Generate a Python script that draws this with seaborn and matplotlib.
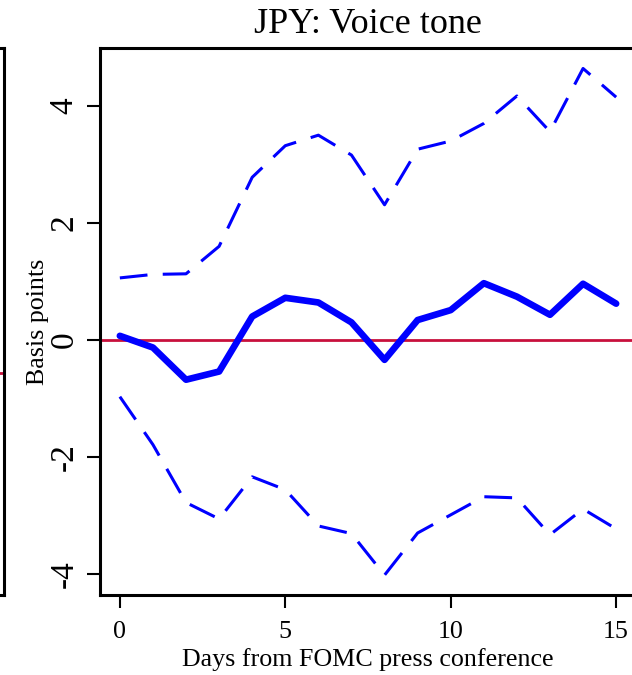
import matplotlib
matplotlib.use("Agg")
import matplotlib.pyplot as plt
import seaborn as sns
import pandas as pd

# ---- data ----
days = list(range(16))
mean_resp = [0.07, -0.13, -0.68, -0.54, 0.40, 0.72, 0.64, 0.30, -0.34, 0.34, 0.51, 0.97, 0.74, 0.43, 0.96, 0.62]
upper_band = [1.06, 1.12, 1.13, 1.60, 2.78, 3.32, 3.50, 3.16, 2.31, 3.26, 3.40, 3.70, 4.17, 3.56, 4.64, 4.15]
lower_band = [-0.97, -1.79, -2.78, -3.06, -2.34, -2.56, -3.18, -3.31, -4.02, -3.30, -2.99, -2.68, -2.70, -3.33, -2.89, -3.23]
y_ticks = [-4, -2, 0, 2, 4]
x_ticks = [0, 5, 10, 15]
title = "JPY: Voice tone"
xlabel = "Days from FOMC press conference"
ylabel = "Basis points"

sns.set_theme(style="white")
plt.rcParams["font.family"] = ["Liberation Serif", "DejaVu Serif"]
plt.rcParams["lines.scale_dashes"] = False
for k in ["text.color", "axes.labelcolor", "xtick.color", "ytick.color"]:
    plt.rcParams[k] = "black"

W, H = 632, 675
fig = plt.figure(figsize=(W / 100, H / 100), dpi=100)
ax = fig.add_axes([100 / W, 80 / H, 536 / W, 547 / H])

df = pd.DataFrame({"day": days, "mean": mean_resp, "upper": upper_band, "lower": lower_band})

red = "#C8103C"
ax.axhline(0, color=red, lw=2.0, zorder=1)
sns.lineplot(data=df, x="day", y="upper", ax=ax, color="#0000FF", lw=2.2,
             linestyle=(0, (20, 11)), zorder=2)
sns.lineplot(data=df, x="day", y="lower", ax=ax, color="#0000FF", lw=2.2,
             linestyle=(0, (20, 11)), zorder=2)
sns.lineplot(data=df, x="day", y="mean", ax=ax, color="#0000FF", lw=4.8,
             solid_joinstyle="round", solid_capstyle="round", zorder=3)

ax.set_xlim(-0.6, 15.6)
ax.set_ylim(-4.36, 4.99)
ax.set_xticks(x_ticks)
ax.set_xticklabels([str(t) for t in x_ticks], fontsize=18.7)
ax.set_yticks(y_ticks)
ax.set_yticklabels([str(t) for t in y_ticks], fontsize=24, rotation=90, va="center")
ax.tick_params(axis="both", direction="out", length=9.5, width=1.5, color="black",
               labelcolor="black", left=True, bottom=True)
ax.tick_params(axis="x", pad=9.5)
ax.tick_params(axis="y", pad=5)

for side in ["left", "top", "bottom", "right"]:
    ax.spines[side].set_visible(True)
    ax.spines[side].set_color("black")
    ax.spines[side].set_linewidth(2.2)

ax.set_xlabel(xlabel, fontsize=18.7, labelpad=3, color="black")
ax.set_ylabel(ylabel, fontsize=18.7, labelpad=0, color="black")
ax.set_title(title, fontsize=26, pad=11, color="black")

# neighbouring panel edge (cropped), as in the reference
ax2 = fig.add_axes([-0.3, 80 / H, 0.3 + 4 / W, 547 / H])
ax2.set_ylim(-222, 325)
ax2.axhline(0, color=red, lw=2.0)
ax2.set_xticks([])
ax2.set_yticks([])
for side in ["left", "top", "bottom", "right"]:
    ax2.spines[side].set_visible(True)
    ax2.spines[side].set_color("black")
    ax2.spines[side].set_linewidth(2.2)

fig.savefig("out.png", dpi=100)
